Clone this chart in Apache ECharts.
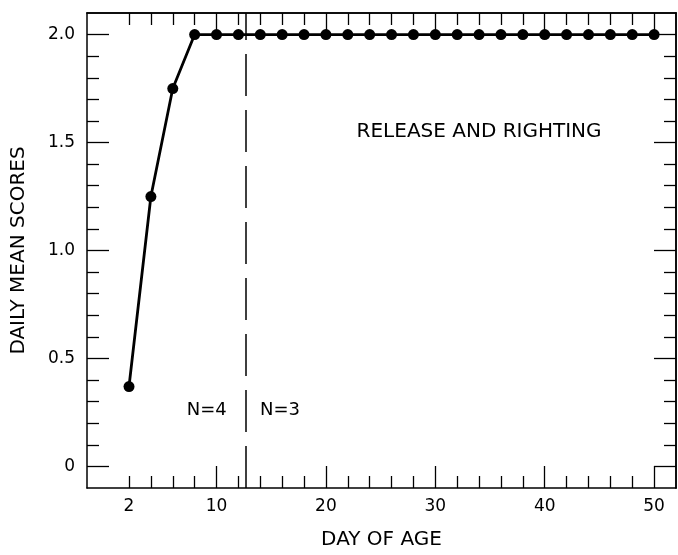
<!DOCTYPE html>
<html>
<head>
<meta charset="utf-8">
<script src="https://cdn.jsdelivr.net/npm/echarts@6/dist/echarts.min.js"></script>
<style>
  html, body { margin: 0; padding: 0; background: #fff; }
  #chart { width: 678px; height: 555px; }
</style>
</head>
<body>
<div id="chart"></div>
<script>
var days = [2, 4, 6, 8, 10, 12, 14, 16, 18, 20, 22, 24, 26, 28, 30, 32, 34, 36, 38, 40, 42, 44, 46, 48, 50];
var scores = [0.37, 1.25, 1.75, 2.0, 2.0, 2.0, 2.0, 2.0, 2.0, 2.0, 2.0, 2.0, 2.0, 2.0, 2.0, 2.0, 2.0, 2.0, 2.0, 2.0, 2.0, 2.0, 2.0, 2.0, 2.0];
var xLabelTicks = [2, 10, 20, 30, 40, 50];
var xMajorTicks = [10, 20, 30, 40, 50];
var xMinorTicks = [2, 4, 6, 8, 12, 14, 16, 18, 22, 24, 26, 28, 32, 34, 36, 38, 42, 44, 46, 48];
var yLabelTicks = [0, 0.5, 1.0, 1.5, 2.0];
var yMinorTicks = [0.1, 0.2, 0.3, 0.4, 0.6, 0.7, 0.8, 0.9, 1.1, 1.2, 1.3, 1.4, 1.6, 1.7, 1.8, 1.9];
var dividerDay = 12.7;
var notes = ['RELEASE AND RIGHTING', 'N=4', 'N=3'];

var font = 'DejaVu Sans';
var ink = '#000';

function xAxisPart(pos, ticks, len, withLabel) {
  return {
    type: 'value', position: pos, min: -1.84, max: 52,
    axisLine: { show: withLabel || pos === 'top', onZero: false, lineStyle: { color: ink, width: 1.5 } },
    axisTick: { show: true, inside: true, length: len, customValues: ticks, lineStyle: { color: ink, width: 1.3 } },
    axisLabel: { show: withLabel, customValues: xLabelTicks, margin: 10, color: ink, fontFamily: font, fontSize: 17 },
    splitLine: { show: false },
    name: withLabel ? 'DAY OF AGE' : '',
    nameLocation: 'middle', nameGap: 42,
    nameTextStyle: { color: ink, fontFamily: font, fontSize: 20 }
  };
}

function yAxisPart(pos, ticks, len, withLabel) {
  return {
    type: 'value', position: pos, min: -0.1, max: 2.1,
    axisLine: { show: withLabel || pos === 'right', onZero: false, lineStyle: { color: ink, width: 1.5 } },
    axisTick: { show: true, inside: true, length: len, customValues: ticks, lineStyle: { color: ink, width: 1.3 } },
    axisLabel: {
      show: withLabel, customValues: yLabelTicks, margin: 12, color: ink, fontFamily: font, fontSize: 17,
      formatter: function (v) { return v === 0 ? '0' : v.toFixed(1); }
    },
    splitLine: { show: false },
    name: withLabel ? 'DAILY MEAN SCORES' : '',
    nameLocation: 'middle', nameGap: 58,
    nameTextStyle: { color: ink, fontFamily: font, fontSize: 20 }
  };
}

var chart = echarts.init(document.getElementById('chart'), null, { renderer: 'canvas' });

var option = {
  animation: false,
  backgroundColor: '#fff',
  grid: { left: 87, right: 2, top: 13, bottom: 66 },
  xAxis: [
    xAxisPart('bottom', xMajorTicks, 22, true),
    xAxisPart('bottom', xMinorTicks, 12, false),
    xAxisPart('top', xMajorTicks, 22, false),
    xAxisPart('top', xMinorTicks, 12, false)
  ],
  yAxis: [
    yAxisPart('left', yLabelTicks, 22, true),
    yAxisPart('left', yMinorTicks, 12, false),
    yAxisPart('right', yLabelTicks, 22, false),
    yAxisPart('right', yMinorTicks, 12, false)
  ],
  series: [
    {
      type: 'line',
      data: days.map(function (d, i) { return [d, scores[i]]; }),
      xAxisIndex: 0, yAxisIndex: 0,
      symbol: 'circle', symbolSize: 11,
      itemStyle: { color: ink },
      lineStyle: { color: ink, width: 2.8 },
      markLine: {
        silent: true, symbol: ['none', 'none'],
        label: { show: false },
        lineStyle: { color: ink, width: 1.5, type: [42, 14] },
        data: [{ xAxis: dividerDay }]
      },
      markPoint: {
        silent: true, symbol: 'circle', symbolSize: 0,
        label: { show: true, position: 'inside', formatter: '{b}', color: ink, fontFamily: font, fontSize: 18 },
        data: [
          { name: notes[0], coord: [34, 1.55], label: { fontSize: 20 } },
          { name: notes[1], coord: [9.1, 0.26] },
          { name: notes[2], coord: [15.8, 0.26] }
        ]
      }
    }
  ]
};

chart.setOption(option);
</script>
</body>
</html>
